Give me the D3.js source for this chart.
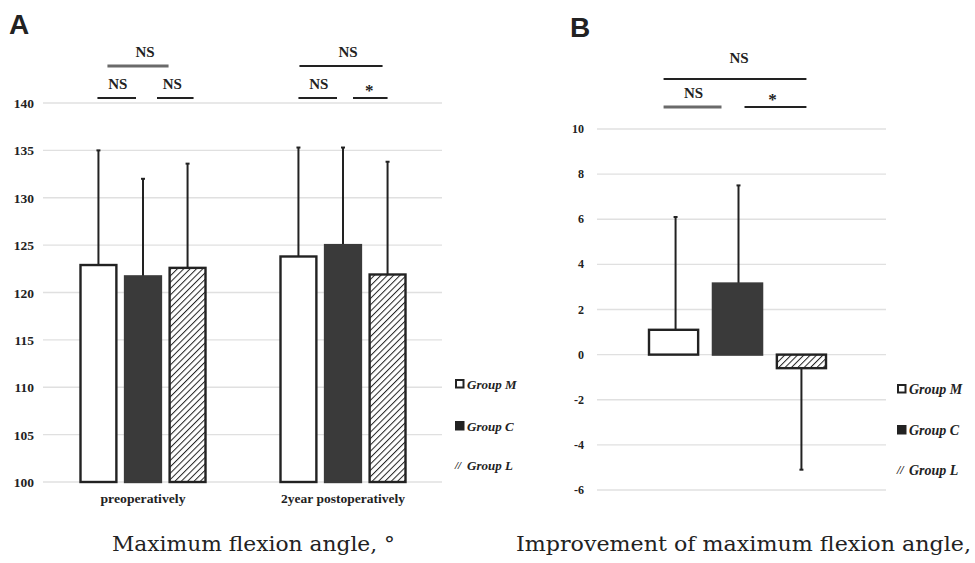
<!DOCTYPE html>
<html><head><meta charset="utf-8">
<script src="https://cdn.jsdelivr.net/npm/d3@7"></script>
<style>body{margin:0;background:#fff}svg{display:block}</style>
</head><body>
<svg id="c" width="975" height="563"></svg>
<script>
const groups = ["Group M", "Group C", "Group L"];
const categoriesA = ["preoperatively", "2year postoperatively"];
const meansA = [[122.9, 121.7, 122.6], [123.8, 125.0, 121.9]];
const errTopA = [[135.0, 132.0, 133.6], [135.3, 135.3, 133.8]];
const ticksA = [100, 105, 110, 115, 120, 125, 130, 135, 140];
const meansB = [1.1, 3.15, -0.6];
const errEndB = [6.1, 7.5, -5.1];
const ticksB = [-6, -4, -2, 0, 2, 4, 6, 8, 10];
const sigLabelsA = [["NS", "NS", "NS"], ["NS", "NS", "*"]];   // [top (M vs L), M vs C, C vs L]
const sigLabelsB = ["NS", "NS", "*"];
const titleA = "Maximum flexion angle, °";
const titleB = "Improvement of maximum flexion angle,";

const svg = d3.select("#c");
const defs = svg.append("defs");
const pat = defs.append("pattern").attr("id", "hatch").attr("patternUnits", "userSpaceOnUse")
  .attr("width", 4.5).attr("height", 4.5).attr("patternTransform", "rotate(45)");
pat.append("rect").attr("width", 4.5).attr("height", 4.5).attr("fill", "#fff");
pat.append("line").attr("x1", 0).attr("y1", 0).attr("x2", 0).attr("y2", 4.5)
  .attr("stroke", "#222").attr("stroke-width", 2);

const serif = "'Liberation Serif', 'Times New Roman', serif";
const wideSerif = "'DejaVu Serif', 'Liberation Serif', serif";
const ink = "#222";
const fillFor = i => i === 0 ? "#fff" : i === 1 ? "#3a3a3a" : "url(#hatch)";
const strokeFor = i => i === 1 ? "#3a3a3a" : ink;

function sigMark(g, x1, x2, yLine, label, grey, textDx, fs) {
  g.append("line").attr("x1", x1).attr("x2", x2).attr("y1", yLine).attr("y2", yLine)
    .attr("stroke", grey ? "#6a6a6a" : ink).attr("stroke-width", grey ? 3 : 1.8);
  const star = label === "*";
  g.append("text").attr("x", (x1 + x2) / 2 + textDx).attr("y", star ? yLine - 8 : yLine - 9)
    .attr("text-anchor", "middle").attr("font-family", serif)
    .attr("font-size", star ? 17 : fs).attr("font-weight", "bold").attr("fill", ink)
    .attr("dy", star ? 6 : 0).text(label);
}

// ---------- Panel A ----------
const yA = d3.scaleLinear().domain([100, 140]).range([482, 103]);
const x0A = d3.scaleBand().domain(categoriesA).range([43, 443]);
const x1A = d3.scaleBand().domain(groups).range([0, 127]).paddingInner(0.15);
const gA = svg.append("g");
gA.selectAll("line.grid").data(ticksA).join("line")
  .attr("x1", 43).attr("x2", 442).attr("y1", d => yA(d)).attr("y2", d => yA(d))
  .attr("stroke", "#e0e0e0").attr("stroke-width", 1.3);
gA.selectAll("text.tick").data(ticksA).join("text")
  .attr("x", 34).attr("y", d => yA(d) + 5).attr("text-anchor", "end").attr("fill", ink)
  .attr("font-family", serif).attr("font-weight", "bold").attr("font-size", 13.5).text(d => d);

const centerA = (ci, gi) => x0A(categoriesA[ci]) + (x0A.bandwidth() - 127) / 2 + x1A(groups[gi]) + x1A.bandwidth() / 2;
categoriesA.forEach((cat, ci) => {
  groups.forEach((g, gi) => {
    const w = x1A.bandwidth(), cx = centerA(ci, gi), x = cx - w / 2;
    gA.append("line").attr("x1", cx).attr("x2", cx)
      .attr("y1", yA(meansA[ci][gi])).attr("y2", yA(errTopA[ci][gi]))
      .attr("stroke", ink).attr("stroke-width", 2);
    gA.append("line").attr("x1", cx - 2).attr("x2", cx + 2)
      .attr("y1", yA(errTopA[ci][gi])).attr("y2", yA(errTopA[ci][gi]))
      .attr("stroke", ink).attr("stroke-width", 2);
    gA.append("rect").attr("x", x + 1).attr("width", w - 2)
      .attr("y", yA(meansA[ci][gi])).attr("height", yA(100) - yA(meansA[ci][gi]))
      .attr("fill", fillFor(gi)).attr("stroke", strokeFor(gi)).attr("stroke-width", 2.4);
  });
  const lab = gA.append("text").attr("x", x0A(cat) + x0A.bandwidth() / 2).attr("y", 503)
    .attr("text-anchor", "middle").attr("font-family", serif).attr("font-weight", "bold")
    .attr("font-size", 12).attr("fill", ink).text(cat);
  lab.attr("textLength", ci === 0 ? 85 : 124).attr("lengthAdjust", "spacingAndGlyphs");
});

categoriesA.forEach((cat, ci) => {
  const cM = centerA(ci, 0), cC = centerA(ci, 1), cL = centerA(ci, 2);
  const labs = sigLabelsA[ci];
  if (ci === 0) {
    sigMark(gA, cM + 9, cL - 19, 66, labs[0], true, 7, 15);
    sigMark(gA, cM - 1, cC - 7, 98, labs[1], false, 1, 15);
    sigMark(gA, cC + 14, cL + 6, 98, labs[2], false, -3, 15);
  } else {
    sigMark(gA, cM + 1, cL - 5, 66, labs[0], false, 7, 15);
    sigMark(gA, cM, cC - 6, 98, labs[1], false, 1, 15);
    sigMark(gA, cC + 10, cL, 98, labs[2], false, -1, 15);
  }
});

// ---------- Panel B ----------
const yB = d3.scaleLinear().domain([-6, 10]).range([490, 129]);
const xB = d3.scaleBand().domain(groups).range([648, 827]).paddingInner(0.2);
const gB = svg.append("g");
gB.selectAll("line.grid").data(ticksB).join("line")
  .attr("x1", 597).attr("x2", 886).attr("y1", d => yB(d)).attr("y2", d => yB(d))
  .attr("stroke", "#e0e0e0").attr("stroke-width", 1.3);
gB.selectAll("text.tick").data(ticksB).join("text")
  .attr("x", 584).attr("y", d => yB(d) + 4).attr("text-anchor", "end").attr("fill", ink)
  .attr("font-family", serif).attr("font-weight", "bold").attr("font-size", 12).text(d => d);
const centerB = gi => xB(groups[gi]) + xB.bandwidth() / 2;
groups.forEach((g, gi) => {
  const w = xB.bandwidth(), x = xB(g), cx = centerB(gi) + (gi === 0 ? 2 : gi === 1 ? 1 : 0);
  const v = meansB[gi];
  gB.append("line").attr("x1", cx).attr("x2", cx).attr("y1", yB(v)).attr("y2", yB(errEndB[gi]))
    .attr("stroke", ink).attr("stroke-width", 2);
  gB.append("line").attr("x1", cx - 2).attr("x2", cx + 2).attr("y1", yB(errEndB[gi])).attr("y2", yB(errEndB[gi]))
    .attr("stroke", ink).attr("stroke-width", 2);
  gB.append("rect").attr("x", x + 1).attr("width", w - 2)
    .attr("y", yB(Math.max(0, v))).attr("height", Math.abs(yB(v) - yB(0)))
    .attr("fill", fillFor(gi)).attr("stroke", strokeFor(gi)).attr("stroke-width", 2.4);
});
{
  const cM = centerB(0), cC = centerB(1), cL = centerB(2);
  sigMark(gB, cM - 10, cL + 5, 79, sigLabelsB[0], false, 4, 15);
  gB.select("text:last-child");
  sigMark(gB, cM - 10, cC - 16, 107, sigLabelsB[1], true, 1, 15);
  sigMark(gB, cC + 7, cL + 5, 107, sigLabelsB[2], false, -3, 15);
}
// lift top B label a bit
gB.selectAll("text").filter(function() { return +this.getAttribute("y") < 75; }).attr("y", 63);

// ---------- Legends ----------
function legend(x, baselines, fs) {
  groups.forEach((g, gi) => {
    const y = baselines[gi];
    if (gi === 2) {
      svg.append("text").attr("x", x).attr("y", y - 1).attr("font-family", serif)
        .attr("font-size", fs - 2).attr("font-weight", "bold").attr("font-style", "italic")
        .attr("fill", ink).text("//");
    } else {
      svg.append("rect").attr("x", x + 1).attr("y", y - 9).attr("width", 7.5).attr("height", 7.5)
        .attr("fill", gi === 0 ? "#fff" : ink).attr("stroke", ink).attr("stroke-width", 2);
    }
    svg.append("text").attr("x", x + 12).attr("y", y).attr("font-family", serif).attr("fill", ink)
      .attr("font-style", "italic").attr("font-weight", "bold").attr("font-size", fs).text(g);
  });
}
legend(455, [389, 431, 470], 13);
legend(897, [394, 435, 475], 14);

// ---------- Panel letters and titles ----------
svg.append("text").attr("x", 9).attr("y", 34).attr("font-family", "'Liberation Sans', Arial, sans-serif")
  .attr("font-weight", "bold").attr("font-size", 28).attr("fill", ink).text("A");
svg.append("text").attr("x", 570).attr("y", 37).attr("font-family", "'Liberation Sans', Arial, sans-serif")
  .attr("font-weight", "bold").attr("font-size", 28).attr("fill", ink).text("B");
svg.append("text").attr("x", 112).attr("y", 551).attr("font-family", wideSerif)
  .attr("font-size", 21).attr("fill", ink).attr("textLength", 283).attr("lengthAdjust", "spacingAndGlyphs").text(titleA);
svg.append("text").attr("x", 516).attr("y", 551).attr("font-family", wideSerif)
  .attr("font-size", 21).attr("fill", ink).attr("textLength", 455).attr("lengthAdjust", "spacingAndGlyphs").text(titleB);
</script>
</body></html>
